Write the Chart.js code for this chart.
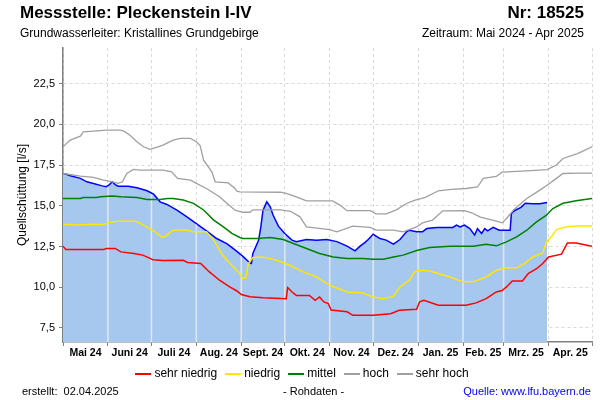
<!DOCTYPE html>
<html>
<head>
<meta charset="utf-8">
<script src="https://cdn.jsdelivr.net/npm/chart.js@4"></script>
<style>
  body { margin: 0; background: #fff; font-family: "Liberation Sans", Arial, sans-serif; }
  #wrap { position: relative; width: 600px; height: 400px; overflow: hidden; }
  #wrap canvas { position: absolute; left: 0; top: 0; }
  .txt { position: absolute; white-space: nowrap; color: #000; line-height: 1; }
  .big { font-size: 17px; font-weight: bold; top: 4px; }
  .sub { font-size: 12px; top: 27px; }
  .small { font-size: 11px; }
  #legend { position: absolute; left: 0; width: 600px; top: 366px; text-align: center; font-size: 12px; }
  #legend span.item { margin: 0 2px; }
  #legend i { display: inline-block; width: 16px; height: 2px; vertical-align: middle; margin: 0 3px 0 4px; }
</style>
</head>
<body>
<div id="wrap">
  <canvas id="chart" width="600" height="400"></canvas>
  <div class="txt big" style="left:20px">Messstelle: Pleckenstein I-IV</div>
  <div class="txt big" style="right:16px">Nr: 18525</div>
  <div class="txt sub" style="left:20px">Grundwasserleiter: Kristallines Grundgebirge</div>
  <div class="txt sub" style="right:16px">Zeitraum: Mai 2024 - Apr 2025</div>
  <div id="legend"></div>
  <div class="txt small" style="left:22px; top:386px">erstellt:&nbsp;&nbsp;02.04.2025</div>
  <div class="txt small" style="left:283px; top:386px">- Rohdaten -</div>
  <div class="txt small" style="right:9px; top:386px; color:#0000ff">Quelle: www.lfu.bayern.de</div>
</div>
<script>
// days counted from 01.05.2024
const monthStarts = [0, 31, 61, 92, 123, 153, 184, 214, 245, 276, 304, 335, 365];
const monthLabels = ['Mai 24', 'Juni 24', 'Juli 24', 'Aug. 24', 'Sept. 24', 'Okt. 24',
  'Nov. 24', 'Dez. 24', 'Jan. 25', 'Feb. 25', 'Mrz. 25', 'Apr. 25'];
const yTicks = [7.5, 10, 12.5, 15, 17.5, 20, 22.5];

// [day, l/s]
const rohdaten = [[0,16.98],[2,16.95],[5,16.84],[12,16.68],[16.5,16.47],[21,16.37],[27,16.22],[30,16.17],
  [32,16.3],[34,16.47],[36,16.3],[38,16.2],[45,16.2],[51,16.1],[58,15.92],[62.5,15.71],[67,15.24],
  [71.7,15.08],[78.6,14.73],[85.5,14.32],[92,13.91],[99,13.46],[106,12.99],[113,12.68],[120,12.2],
  [124.5,11.86],[129,11.49],[130,11.46],[131,12.07],[135,12.89],[136.5,13.7],[138,14.73],[140.6,15.24],
  [143,14.93],[145,14.42],[148.6,13.75],[153,13.3],[158,12.89],[161,12.8],[168,12.93],[175,12.89],
  [182,12.93],[189,12.8],[196,12.52],[201.5,12.23],[205,12.52],[208,12.72],[210.6,12.93],[214,13.25],
  [218.7,12.99],[223,12.89],[228,12.64],[232.5,12.93],[237,13.4],[239,13.5],[244,13.4],[248,13.4],
  [251,13.6],[258,13.67],[269,13.67],[271.5,13.81],[274,13.7],[277,13.81],[280.7,13.6],[284,13.2],
  [286,13.6],[288.8,13.3],[291,13.6],[293,13.46],[296.8,13.67],[301,13.5],[308.5,13.5],[309.4,14.53],
  [311.7,14.71],[316,14.9],[319,15.15],[324,15.12],[329,15.12],[334,15.2]];

const sehrNiedrig = [[0,12.52],[2,12.32],[28,12.32],[30,12.38],[36,12.38],[40,12.17],[49,12.07],[55,11.97],
  [59,11.82],[62,11.69],[69,11.64],[83,11.65],[86,11.52],[95,11.46],[101,10.94],[108,10.43],[115,10.02],
  [120,9.77],[123,9.55],[129,9.42],[138,9.35],[154,9.3],[155,9.98],[158,9.71],[161,9.5],[170,9.5],
  [174,9.2],[177,9.4],[180,9.1],[183,9.0],[185,8.6],[196,8.49],[200,8.28],[214,8.28],[226,8.38],
  [232,8.59],[244,8.65],[246,9.1],[249,9.2],[259,8.9],[278,8.9],[285,9.04],[292,9.3],[299,9.71],
  [303,9.8],[306,10.02],[310,10.39],[317,10.39],[321,10.84],[327,11.15],[331,11.46],[335,11.86],
  [344,12.03],[348,12.72],[354,12.72],[365,12.52]];

const niedrig = [[0,13.87],[10,13.82],[20,13.87],[28,13.85],[31,13.95],[37,14.05],[50,14.05],[52,13.98],
  [60,13.6],[65,13.3],[68,13.09],[70,13.09],[76,13.5],[84,13.53],[90,13.4],[99,13.4],[104,12.9],
  [110,11.97],[116.5,11.35],[121,10.94],[124,10.55],[126,10.55],[128,11.46],[131,11.82],[138,11.86],
  [147.5,11.66],[156.6,11.35],[165.8,10.94],[175,10.63],[184,10.12],[196,9.71],[207,9.65],[214,9.4],
  [221,9.3],[228,9.45],[232.5,10.02],[239,10.43],[242,10.9],[245,11.04],[253,11.0],[267,10.63],
  [276,10.33],[283,10.33],[292,10.63],[299,11.04],[306,11.19],[313,11.19],[318.6,11.46],[324,11.86],
  [331,12.1],[333.6,12.78],[337,13.09],[340.5,13.54],[347,13.7],[354,13.76],[365,13.76]];

const mittel = [[0,15.45],[12,15.45],[14,15.51],[23,15.51],[26,15.55],[34,15.6],[40,15.55],[51,15.51],
  [58,15.39],[67,15.39],[72,15.45],[76,15.45],[83,15.35],[90,15.15],[97,14.74],[104,14.12],[110.7,13.7],
  [116.5,13.3],[122,13.05],[124,12.99],[134,12.99],[143,13.05],[152,12.93],[159,12.68],[168,12.38],
  [177,12.07],[186.5,11.86],[196,11.76],[207,11.76],[214,11.72],[221,11.72],[228,11.86],[234.7,11.97],
  [244,12.25],[253,12.44],[267,12.52],[283,12.52],[292,12.64],[299,12.54],[306,12.78],[313,13.09],
  [320,13.5],[326.7,14.01],[333.6,14.42],[338,14.83],[345,15.15],[354,15.31],[365,15.45]];

const hoch = [[0,16.98],[12,16.82],[21,16.74],[28,16.57],[34,16.47],[38,16.37],[41,16.47],[44,16.98],
  [48.7,17.23],[53,17.19],[69,17.19],[75,17.08],[79,16.68],[88,16.57],[92,16.37],[99,16.06],[108,15.55],
  [113,15.15],[118.7,14.73],[124,14.6],[129,14.6],[131,14.75],[150,14.75],[157,14.66],[163.5,14.32],
  [168,13.7],[184,13.54],[189,13.4],[200,13.75],[212,13.67],[216,13.5],[228,13.5],[234.7,13.4],
  [244,13.7],[248,13.95],[255,14.12],[262,14.69],[277,14.7],[282,14.57],[288,14.3],[299,14.05],
  [303,13.95],[306,14.22],[311,14.75],[320,15.45],[328,15.9],[334.7,16.3],[340,16.65],[345,16.98],
  [355,17.0],[365,17.0]];

const sehrHoch = [[0,18.62],[5,19.03],[12,19.27],[14,19.54],[21,19.58],[30,19.64],[39.5,19.64],[42,19.58],
  [46,19.34],[51,18.93],[55.6,18.62],[60,18.46],[65,18.6],[69,18.72],[76,19.03],[81,19.13],[88,19.13],
  [92,18.93],[94.6,18.7],[97,17.8],[102.7,17.08],[105,16.47],[114,16.4],[118.7,16.06],[120,15.9],
  [122,15.85],[150,15.83],[154,15.76],[161,15.55],[168,15.3],[186,15.3],[191,15.04],[196,14.7],
  [212,14.7],[216,14.5],[223,14.5],[230,14.75],[237,15.14],[243,15.35],[250,15.51],[259,15.92],
  [268,16.0],[278,16.06],[286,16.15],[290,16.68],[299,16.8],[303,17.06],[323,17.15],[334,17.22],
  [340.5,17.5],[345,17.9],[355,18.2],[365,18.62]];

const monthMids = monthLabels.map((m, i) => (monthStarts[i] + monthStarts[i + 1]) / 2);

const legendItems = [
  ['sehr niedrig', '#ff0000'], ['niedrig', '#ffe600'], ['mittel', '#008000'],
  ['hoch', '#a0a0a0'], ['sehr hoch', '#a0a0a0']
];
document.getElementById('legend').innerHTML = legendItems
  .map(it => '<span class="item"><i style="background:' + it[1] + '"></i>' + it[0] + '</span>').join('');

// light month lines on top of the blue area
const fillLines = {
  id: 'fillLines',
  afterDatasetDraw(chart, args) {
    if (args.index !== 0) return;
    const pts = args.meta.data;
    const ctx = chart.ctx, area = chart.chartArea, xs = chart.scales.x;
    ctx.save();
    ctx.beginPath();
    ctx.moveTo(pts[0].x, area.bottom);
    pts.forEach(p => ctx.lineTo(p.x, p.y + 1));
    ctx.lineTo(pts[pts.length - 1].x, area.bottom);
    ctx.closePath();
    ctx.clip();
    ctx.strokeStyle = '#e2e6ec';
    ctx.lineWidth = 1.5;
    monthStarts.slice(1).forEach(d => {
      const x = xs.getPixelForValue(d);
      ctx.beginPath();
      ctx.moveTo(x, area.top);
      ctx.lineTo(x, area.bottom);
      ctx.stroke();
    });
    ctx.restore();
  }
};

function line(data, color, width) {
  return { data: data, borderColor: color, borderWidth: width, pointRadius: 0, tension: 0, fill: false, order: 1 };
}

new Chart(document.getElementById('chart'), {
  type: 'line',
  data: {
    datasets: [
      { label: 'Rohdaten', data: rohdaten, borderColor: '#0000ff', borderWidth: 1.5, backgroundColor: '#a6c8ef',
        fill: 'start', pointRadius: 0, tension: 0, order: 10 },
      line(sehrNiedrig, '#ff0000', 1.5),
      line(niedrig, '#ffe600', 1.5),
      line(mittel, '#008000', 1.5),
      line(hoch, '#a0a0a0', 1.3),
      line(sehrHoch, '#a0a0a0', 1.3)
    ]
  },
  options: {
    responsive: false,
    animation: false,
    devicePixelRatio: 1,
    layout: { padding: { top: 48, right: 8, left: 0, bottom: 38 } },
    plugins: { legend: { display: false }, tooltip: { enabled: false } },
    scales: {
      x: {
        type: 'linear', min: 0, max: 365,
        afterBuildTicks: s => {
          s.ticks = monthStarts.concat(monthMids).sort((a, b) => a - b).map(v => ({ value: v }));
        },
        afterFit: s => { s.height = 20; },
        ticks: {
          autoSkip: false, maxRotation: 0, minRotation: 0, padding: 1,
          color: '#000', font: { family: '"Liberation Sans", Arial', size: 10.5, weight: 'bold' },
          callback: v => { const i = monthMids.indexOf(v); return i >= 0 ? monthLabels[i] : ''; }
        },
        grid: {
          color: c => monthStarts.includes(c.tick.value) ? '#d9d9d9' : 'rgba(0,0,0,0)',
          tickColor: c => monthStarts.includes(c.tick.value) ? '#808080' : 'rgba(0,0,0,0)',
          tickLength: 4, lineWidth: 1
        },
        border: { color: '#808080', width: 1.5, dash: [3, 3] }
      },
      y: {
        min: 6.64, max: 24.68,
        afterBuildTicks: s => { s.ticks = yTicks.map(v => ({ value: v })); },
        afterFit: s => { s.width = 63; },
        ticks: {
          color: '#000', padding: 4, font: { family: '"Liberation Sans", Arial', size: 11 },
          callback: v => v.toFixed(1).replace('.', ',')
        },
        grid: { color: '#d9d9d9', tickColor: '#808080', tickLength: 4, lineWidth: 1 },
        border: { color: '#808080', width: 1.5, dash: [3, 3] },
        title: { display: true, text: 'Quellschüttung [l/s]', color: '#000',
          font: { family: '"Liberation Sans", Arial', size: 12 }, padding: { top: 15, bottom: 0 } }
      }
    }
  },
  plugins: [fillLines]
});
</script>
</body>
</html>
